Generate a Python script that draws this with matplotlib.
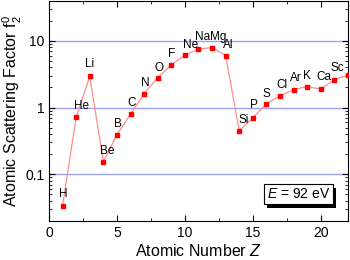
import matplotlib.pyplot as plt
import matplotlib.patheffects as pe
import numpy as np

plt.rcParams['font.family'] = ['Liberation Sans', 'DejaVu Sans']
plt.rcParams['mathtext.fontset'] = 'custom'
plt.rcParams['mathtext.it'] = 'Liberation Sans:italic'
plt.rcParams['mathtext.rm'] = 'Liberation Sans'

z = np.arange(1, 23)
f2 = [0.034, 0.71, 2.93, 0.154, 0.39, 0.79, 1.62, 2.8, 4.34, 6.1, 7.5, 7.9,
      6.0, 0.45, 0.70, 1.14, 1.49, 1.86, 2.06, 1.88, 2.62, 3.04]
elements = ['H', 'He', 'Li', 'Be', 'B', 'C', 'N', 'O', 'F', 'Ne', 'Na', 'Mg',
            'Al', 'Si', 'P', 'S', 'Cl', 'Ar', 'K', 'Ca', 'Sc', '']
# label offsets from the marker, in pixels (dx, dy up)
offsets = [(1, 12), (5, 11), (0, 12), (4, 11), (1, 11), (1, 11), (1, 11), (1, 10),
           (0, 11), (6, 10), (4, 12), (6, 11), (3, 11), (4, 11), (1, 13), (0, 10),
           (2, 11), (2, 12), (0, 11), (3, 12), (3, 12), (0, 0)]

fig = plt.figure(figsize=(3.5, 2.6), dpi=100)
ax = fig.add_axes([0.14, 0.15, 0.854, 0.848])

for yv in [0.1, 1, 10]:
    ax.axhline(yv, color='#a0a0f0', lw=1, zorder=1)

ax.plot(z, f2, '-', color='#ff8c8c', lw=0.9, zorder=2)
ax.plot(z, f2, 's', color='#ff0000', ms=2.8, mec='#ff0000', zorder=3)

for zi, fi, el, (dx, dy) in zip(z, f2, elements, offsets):
    if el:
        ax.annotate(el, (zi, fi), xytext=(dx, dy), textcoords='offset pixels',
                    ha='center', va='center', fontsize=8.5)

ax.set_yscale('log')
ax.set_xlim(0, 22)
ax.set_ylim(0.02, 40)
ax.set_xticks([0, 5, 10, 15, 20])
ax.set_xticks(np.arange(2.5, 22, 5), minor=True)
ax.set_yticks([0.1, 1, 10])
ax.set_yticklabels(['0.1', '1', '10'])
ax.tick_params(which='both', direction='in', top=True, right=True, labelsize=10)
ax.tick_params(which='major', length=4)
ax.tick_params(which='minor', length=2)
ax.set_xlabel('Atomic Number $Z$', fontsize=11.5, labelpad=2)
ax.set_ylabel('Atomic Scattering Factor f$_2^0$', fontsize=11.5, labelpad=1)

ax.text(0.94, 0.122, '$E$ = 92 eV', transform=ax.transAxes, ha='right', va='center',
        fontsize=10,
        bbox=dict(boxstyle='square,pad=0.22', fc='white', ec='black', lw=0.8,
                  path_effects=[pe.SimplePatchShadow(offset=(2.5, -2.5), shadow_rgbFace='black', alpha=1),
                                pe.Normal()]))

fig.savefig('out.png', dpi=100)
